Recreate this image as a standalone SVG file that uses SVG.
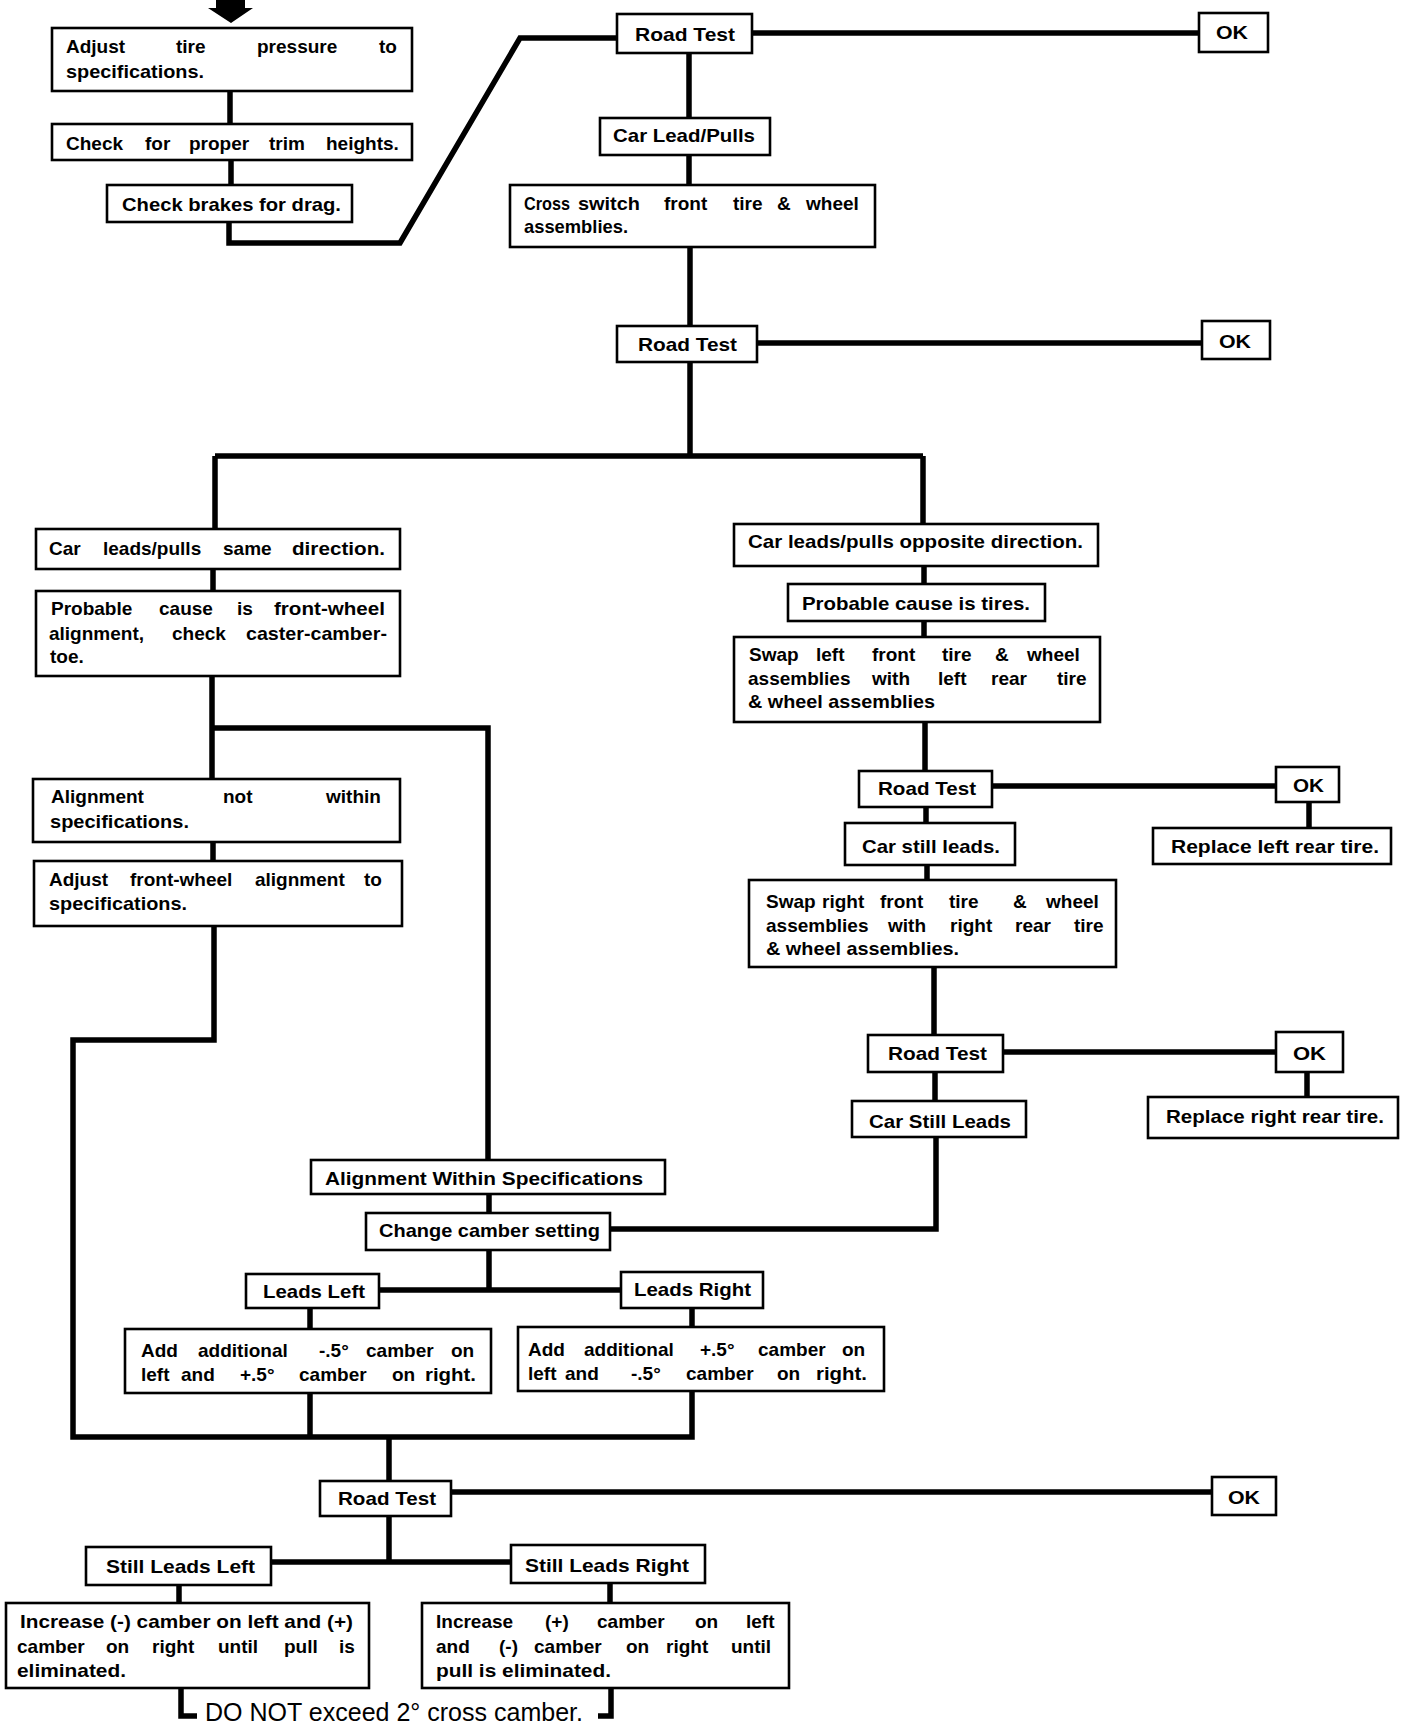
<svg xmlns="http://www.w3.org/2000/svg" width="1408" height="1724" viewBox="0 0 1408 1724">
<style>
.b{fill:#fff;stroke:#000;stroke-width:2.6}
.c{fill:none;stroke:#000;stroke-width:5.5;stroke-linejoin:miter}
.t{font-family:"Liberation Sans",Arial,Helvetica,sans-serif;font-weight:bold;font-size:19px;fill:#000}
.n{font-family:"Liberation Sans",Arial,Helvetica,sans-serif;font-size:25px;fill:#000}
</style>
<rect x="0" y="0" width="1408" height="1724" fill="#fff"/>
<g id="connectors">
<polygon points="216,0 245,0 245,8 253,8 231,23 208,8 216,8" fill="#000"/>
<path class="c" d="M230,91V124M231,160V185M229,222V243H400L520,38H617"/>
<path class="c" d="M752,33H1199M689,53V118M689,155V185M690,247V326M757,343H1202"/>
<path class="c" d="M690,362V456M215,456H923M215,456V529M923,456V524"/>
<path class="c" d="M213,569V591M212,676V779M212,728H488V1160M213,842V861"/>
<path class="c" d="M214,926V1040H73V1437H692V1391M310,1394V1437"/>
<path class="c" d="M489,1194V1213M489,1250V1290M379,1290H621M310,1308V1329M692,1308V1327M610,1229H936V1137"/>
<path class="c" d="M924,566V584M924,621V637M925,722V771M992,786H1276M1309,802V828M926,807V823M927,865V880M934,967V1035M1003,1052H1276M1307,1072V1097M935,1072V1101"/>
<path class="c" d="M389,1437V1481M451,1492H1212M389,1516V1562M271,1562H511M179,1585V1603M610,1583V1603"/>
<path class="c" d="M181,1688V1716H197M611,1688V1716H598"/>
</g>
<g id="n_adjust_tire"><rect class="b" x="52" y="28" width="360" height="63"/>
<text class="t" y="53"><tspan x="66">Adjust </tspan><tspan x="176">tire </tspan><tspan x="257">pressure </tspan><tspan x="379">to</tspan></text>
<text class="t" x="66" y="78" textLength="138" lengthAdjust="spacingAndGlyphs">specifications.</text></g>
<g id="n_trim"><rect class="b" x="52" y="124" width="360" height="36"/>
<text class="t" y="150"><tspan x="66">Check </tspan><tspan x="145">for </tspan><tspan x="189">proper </tspan><tspan x="269">trim </tspan><tspan x="326">heights.</tspan></text></g>
<g id="n_brakes"><rect class="b" x="107" y="185" width="245" height="37"/>
<text class="t" x="122" y="211" textLength="219" lengthAdjust="spacingAndGlyphs">Check brakes for drag.</text></g>
<g id="n_rt1"><rect class="b" x="617" y="14" width="135" height="39"/>
<text class="t" x="635" y="41" textLength="100" lengthAdjust="spacingAndGlyphs">Road Test</text></g>
<g id="n_ok1"><rect class="b" x="1199" y="13" width="69" height="39"/>
<text class="t" x="1216" y="39" textLength="32" lengthAdjust="spacingAndGlyphs">OK</text></g>
<g id="n_carlead"><rect class="b" x="600" y="118" width="170" height="37"/>
<text class="t" x="613" y="142" textLength="142" lengthAdjust="spacingAndGlyphs">Car Lead/Pulls</text></g>
<g id="n_cross"><rect class="b" x="510" y="185" width="365" height="62"/>
<text class="t" y="210"><tspan x="524" textLength="46" lengthAdjust="spacingAndGlyphs">Cross</tspan><tspan> </tspan><tspan x="578" textLength="62" lengthAdjust="spacingAndGlyphs">switch</tspan><tspan> </tspan><tspan x="664">front </tspan><tspan x="733">tire </tspan><tspan x="777">&amp; </tspan><tspan x="806">wheel</tspan></text>
<text class="t" x="524" y="233" textLength="104" lengthAdjust="spacingAndGlyphs">assemblies.</text></g>
<g id="n_rt2"><rect class="b" x="617" y="326" width="140" height="36"/>
<text class="t" x="638" y="351" textLength="99" lengthAdjust="spacingAndGlyphs">Road Test</text></g>
<g id="n_ok2"><rect class="b" x="1202" y="321" width="68" height="38"/>
<text class="t" x="1219" y="348" textLength="32" lengthAdjust="spacingAndGlyphs">OK</text></g>
<g id="n_same"><rect class="b" x="36" y="529" width="364" height="40"/>
<text class="t" y="555"><tspan x="49">Car </tspan><tspan x="103">leads/pulls </tspan><tspan x="223">same </tspan><tspan x="292" textLength="93" lengthAdjust="spacingAndGlyphs">direction.</tspan></text></g>
<g id="n_probable_align"><rect class="b" x="36" y="591" width="364" height="85"/>
<text class="t" y="615"><tspan x="51">Probable </tspan><tspan x="159">cause </tspan><tspan x="237">is </tspan><tspan x="274" textLength="111" lengthAdjust="spacingAndGlyphs">front-wheel</tspan></text>
<text class="t" y="640"><tspan x="49">alignment, </tspan><tspan x="172">check </tspan><tspan x="246" textLength="141" lengthAdjust="spacingAndGlyphs">caster-camber-</tspan></text>
<text class="t" x="50" y="663">toe.</text></g>
<g id="n_notwithin"><rect class="b" x="33" y="779" width="367" height="63"/>
<text class="t" y="803"><tspan x="51">Alignment </tspan><tspan x="223">not </tspan><tspan x="326">within</tspan></text>
<text class="t" x="50" y="828" textLength="139" lengthAdjust="spacingAndGlyphs">specifications.</text></g>
<g id="n_adjustfw"><rect class="b" x="34" y="861" width="368" height="65"/>
<text class="t" y="886"><tspan x="49">Adjust </tspan><tspan x="130">front-wheel </tspan><tspan x="255">alignment </tspan><tspan x="364">to</tspan></text>
<text class="t" x="49" y="910" textLength="138" lengthAdjust="spacingAndGlyphs">specifications.</text></g>
<g id="n_within"><rect class="b" x="311" y="1160" width="354" height="34"/>
<text class="t" x="325" y="1185" textLength="318" lengthAdjust="spacingAndGlyphs">Alignment Within Specifications</text></g>
<g id="n_change"><rect class="b" x="366" y="1213" width="244" height="37"/>
<text class="t" x="379" y="1237" textLength="221" lengthAdjust="spacingAndGlyphs">Change camber setting</text></g>
<g id="n_leadsleft"><rect class="b" x="246" y="1274" width="133" height="34"/>
<text class="t" x="263" y="1298" textLength="102" lengthAdjust="spacingAndGlyphs">Leads Left</text></g>
<g id="n_leadsright"><rect class="b" x="621" y="1272" width="142" height="36"/>
<text class="t" x="634" y="1296" textLength="117" lengthAdjust="spacingAndGlyphs">Leads Right</text></g>
<g id="n_addleft"><rect class="b" x="125" y="1329" width="366" height="64"/>
<text class="t" y="1357"><tspan x="141">Add </tspan><tspan x="198">additional </tspan><tspan x="319">-.5° </tspan><tspan x="366">camber </tspan><tspan x="451">on</tspan></text>
<text class="t" y="1381"><tspan x="141">left </tspan><tspan x="181">and </tspan><tspan x="240">+.5° </tspan><tspan x="299">camber </tspan><tspan x="392">on </tspan><tspan x="425" textLength="51" lengthAdjust="spacingAndGlyphs">right.</tspan></text></g>
<g id="n_addright"><rect class="b" x="518" y="1327" width="366" height="64"/>
<text class="t" y="1356"><tspan x="528">Add </tspan><tspan x="584">additional </tspan><tspan x="700">+.5° </tspan><tspan x="758">camber </tspan><tspan x="842">on</tspan></text>
<text class="t" y="1380"><tspan x="528">left </tspan><tspan x="565">and </tspan><tspan x="631">-.5° </tspan><tspan x="686">camber </tspan><tspan x="777">on </tspan><tspan x="816" textLength="51" lengthAdjust="spacingAndGlyphs">right.</tspan></text></g>
<g id="n_rt5"><rect class="b" x="320" y="1481" width="131" height="35"/>
<text class="t" x="338" y="1505" textLength="98" lengthAdjust="spacingAndGlyphs">Road Test</text></g>
<g id="n_ok5"><rect class="b" x="1212" y="1477" width="64" height="38"/>
<text class="t" x="1228" y="1504" textLength="32" lengthAdjust="spacingAndGlyphs">OK</text></g>
<g id="n_stillleft"><rect class="b" x="86" y="1547" width="185" height="38"/>
<text class="t" x="106" y="1573" textLength="149" lengthAdjust="spacingAndGlyphs">Still Leads Left</text></g>
<g id="n_stillright"><rect class="b" x="511" y="1545" width="194" height="38"/>
<text class="t" x="525" y="1572" textLength="164" lengthAdjust="spacingAndGlyphs">Still Leads Right</text></g>
<g id="n_incleft"><rect class="b" x="6" y="1603" width="363" height="85"/>
<text class="t" x="20" y="1628" textLength="333" lengthAdjust="spacingAndGlyphs">Increase (-) camber on left and (+)</text>
<text class="t" y="1653"><tspan x="17">camber </tspan><tspan x="106">on </tspan><tspan x="152">right </tspan><tspan x="218">until </tspan><tspan x="284">pull </tspan><tspan x="339">is</tspan></text>
<text class="t" x="17" y="1677" textLength="109" lengthAdjust="spacingAndGlyphs">eliminated.</text></g>
<g id="n_incright"><rect class="b" x="422" y="1603" width="367" height="85"/>
<text class="t" y="1628"><tspan x="436">Increase </tspan><tspan x="545">(+) </tspan><tspan x="597">camber </tspan><tspan x="695">on </tspan><tspan x="746">left</tspan></text>
<text class="t" y="1653"><tspan x="436">and </tspan><tspan x="499">(-) </tspan><tspan x="534">camber </tspan><tspan x="626">on </tspan><tspan x="666">right </tspan><tspan x="731">until</tspan></text>
<text class="t" x="436" y="1677" textLength="175" lengthAdjust="spacingAndGlyphs">pull is eliminated.</text></g>
<g id="n_opposite"><rect class="b" x="734" y="524" width="364" height="42"/>
<text class="t" x="748" y="548" textLength="335" lengthAdjust="spacingAndGlyphs">Car leads/pulls opposite direction.</text></g>
<g id="n_tires"><rect class="b" x="788" y="584" width="257" height="37"/>
<text class="t" x="802" y="610" textLength="228" lengthAdjust="spacingAndGlyphs">Probable cause is tires.</text></g>
<g id="n_swapleft"><rect class="b" x="734" y="637" width="366" height="85"/>
<text class="t" y="661"><tspan x="749">Swap </tspan><tspan x="816">left </tspan><tspan x="872">front </tspan><tspan x="942">tire </tspan><tspan x="995">&amp; </tspan><tspan x="1027">wheel</tspan></text>
<text class="t" y="685"><tspan x="748">assemblies </tspan><tspan x="872">with </tspan><tspan x="938">left </tspan><tspan x="991">rear </tspan><tspan x="1057">tire</tspan></text>
<text class="t" x="748" y="708" textLength="187" lengthAdjust="spacingAndGlyphs">&amp; wheel assemblies</text></g>
<g id="n_rt3"><rect class="b" x="859" y="771" width="133" height="36"/>
<text class="t" x="878" y="795" textLength="98" lengthAdjust="spacingAndGlyphs">Road Test</text></g>
<g id="n_ok3"><rect class="b" x="1276" y="767" width="63" height="35"/>
<text class="t" x="1293" y="792" textLength="31" lengthAdjust="spacingAndGlyphs">OK</text></g>
<g id="n_replleft"><rect class="b" x="1153" y="828" width="238" height="36"/>
<text class="t" x="1171" y="853" textLength="208" lengthAdjust="spacingAndGlyphs">Replace left rear tire.</text></g>
<g id="n_carstill"><rect class="b" x="845" y="823" width="170" height="42"/>
<text class="t" x="862" y="853" textLength="138" lengthAdjust="spacingAndGlyphs">Car still leads.</text></g>
<g id="n_swapright"><rect class="b" x="749" y="880" width="367" height="87"/>
<text class="t" y="908"><tspan x="766">Swap </tspan><tspan x="822">right </tspan><tspan x="880">front </tspan><tspan x="949">tire </tspan><tspan x="1013">&amp; </tspan><tspan x="1046">wheel</tspan></text>
<text class="t" y="932"><tspan x="766">assemblies </tspan><tspan x="888">with </tspan><tspan x="950">right </tspan><tspan x="1015">rear </tspan><tspan x="1074">tire</tspan></text>
<text class="t" x="766" y="955" textLength="193" lengthAdjust="spacingAndGlyphs">&amp; wheel assemblies.</text></g>
<g id="n_rt4"><rect class="b" x="868" y="1035" width="135" height="37"/>
<text class="t" x="888" y="1060" textLength="99" lengthAdjust="spacingAndGlyphs">Road Test</text></g>
<g id="n_ok4"><rect class="b" x="1276" y="1032" width="67" height="40"/>
<text class="t" x="1293" y="1060" textLength="33" lengthAdjust="spacingAndGlyphs">OK</text></g>
<g id="n_replright"><rect class="b" x="1148" y="1097" width="250" height="41"/>
<text class="t" x="1166" y="1123" textLength="218" lengthAdjust="spacingAndGlyphs">Replace right rear tire.</text></g>
<g id="n_carstill2"><rect class="b" x="852" y="1101" width="174" height="36"/>
<text class="t" x="869" y="1128" textLength="142" lengthAdjust="spacingAndGlyphs">Car Still Leads</text></g>
<g id="n_note"><text class="n" x="205" y="1721" textLength="378" lengthAdjust="spacingAndGlyphs">DO NOT exceed 2° cross camber.</text></g>
</svg>
